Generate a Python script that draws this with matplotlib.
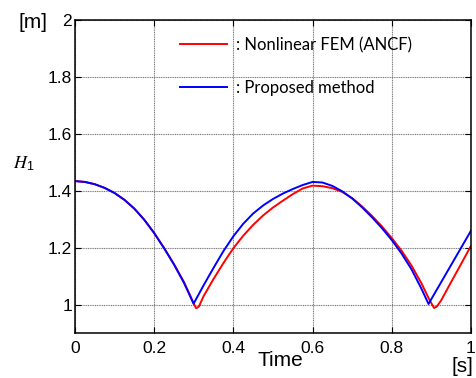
import matplotlib as mpl
import matplotlib.pyplot as plt

# time [s] and height H1 [m]
t_fem = [0, 0.025, 0.05, 0.075, 0.1, 0.125, 0.15, 0.175, 0.2, 0.225, 0.25, 0.275,
         0.29, 0.3, 0.306, 0.313, 0.325, 0.35, 0.375, 0.4, 0.425, 0.45, 0.475,
         0.5, 0.525, 0.55, 0.575, 0.6, 0.625, 0.65, 0.675, 0.7, 0.725, 0.75,
         0.775, 0.8, 0.825, 0.85, 0.875, 0.893, 0.9, 0.907, 0.914, 0.925, 0.95,
         0.975, 1.0]
h_fem = [1.434, 1.431, 1.423, 1.410, 1.392, 1.368, 1.337, 1.298, 1.252, 1.199,
         1.142, 1.080, 1.035, 1.003, 0.987, 0.993, 1.030, 1.090, 1.146, 1.198,
         1.242, 1.280, 1.313, 1.341, 1.365, 1.388, 1.408, 1.418, 1.416, 1.409,
         1.396, 1.374, 1.345, 1.312, 1.275, 1.234, 1.189, 1.137, 1.075, 1.023,
         1.005, 0.988, 0.993, 1.015, 1.079, 1.142, 1.206]

t_prop = [0, 0.025, 0.05, 0.075, 0.1, 0.125, 0.15, 0.175, 0.2, 0.225, 0.25, 0.275,
          0.2996, 0.325, 0.35, 0.375, 0.4, 0.425, 0.45, 0.475, 0.5, 0.525, 0.55,
          0.575, 0.6, 0.625, 0.65, 0.675, 0.7, 0.725, 0.75, 0.775, 0.8, 0.825,
          0.85, 0.875, 0.893, 0.9, 0.925, 0.95, 0.975, 1.0]
h_prop = [1.434, 1.431, 1.423, 1.410, 1.392, 1.368, 1.337, 1.298, 1.251, 1.198,
          1.141, 1.077, 1.003, 1.068, 1.129, 1.188, 1.240, 1.284, 1.320, 1.348,
          1.371, 1.390, 1.406, 1.420, 1.431, 1.429, 1.417, 1.398, 1.373, 1.342,
          1.307, 1.269, 1.227, 1.179, 1.124, 1.056, 1.002, 1.019, 1.079, 1.139,
          1.199, 1.259]

xticks = [0, 0.2, 0.4, 0.6, 0.8, 1]
xticklabels = ['0', '0.2', '0.4', '0.6', '0.8', '1']
yticks = [1, 1.2, 1.4, 1.6, 1.8, 2]
yticklabels = ['1', '1.2', '1.4', '1.6', '1.8', '2']

plt.rcParams['font.family'] = ['Liberation Sans', 'DejaVu Sans']
plt.rcParams['mathtext.fontset'] = 'stix'

fig = plt.figure(figsize=(4.77, 3.78), dpi=100)
ax = fig.add_axes([0.1572, 0.119, 0.830, 0.828])

ax.plot(t_fem, h_fem, color='#ff0000', lw=1.4, label=': Nonlinear FEM (ANCF)')
ax.plot(t_prop, h_prop, color='#0000ff', lw=1.4, label=': Proposed method')

ax.set_xlim(0, 1)
ax.set_ylim(0.9, 2)
ax.set_xticks(xticks)
ax.set_xticklabels(xticklabels)
ax.set_yticks(yticks)
ax.set_yticklabels(yticklabels)
ax.tick_params(direction='in', length=4, width=0.8, top=True, right=True,
               labelsize=12.5, colors='black')
ax.tick_params(axis='y', pad=2)
ax.tick_params(axis='x', pad=6)
ax.grid(True, color='0.5', lw=0.8, linestyle=(0, (1, 0.6)))
for s in ax.spines.values():
    s.set_linewidth(1.1)
    s.set_color('black')

leg = ax.legend(loc='upper left', bbox_to_anchor=(0.265, 0.946), frameon=False,
                handlelength=2.8, handletextpad=0.55, labelspacing=1.6,
                borderpad=0, borderaxespad=0,
                prop={'family': ['Lato', 'DejaVu Sans'], 'size': 12})

fig.text(280 / 477, 1 - 361 / 378, 'Time', ha='center', va='center', fontsize=15)
fig.text(462 / 477, 1 - 366 / 378, '[s]', ha='center', va='center', fontsize=15)
fig.text(33 / 477, 1 - 23 / 378, '[m]', ha='center', va='center', fontsize=15)
fig.text(24 / 477, 1 - 164 / 378, r'$H_{\mathregular{1}}$', ha='center', va='center',
         fontsize=13)

plt.savefig('out.png', dpi=100)
